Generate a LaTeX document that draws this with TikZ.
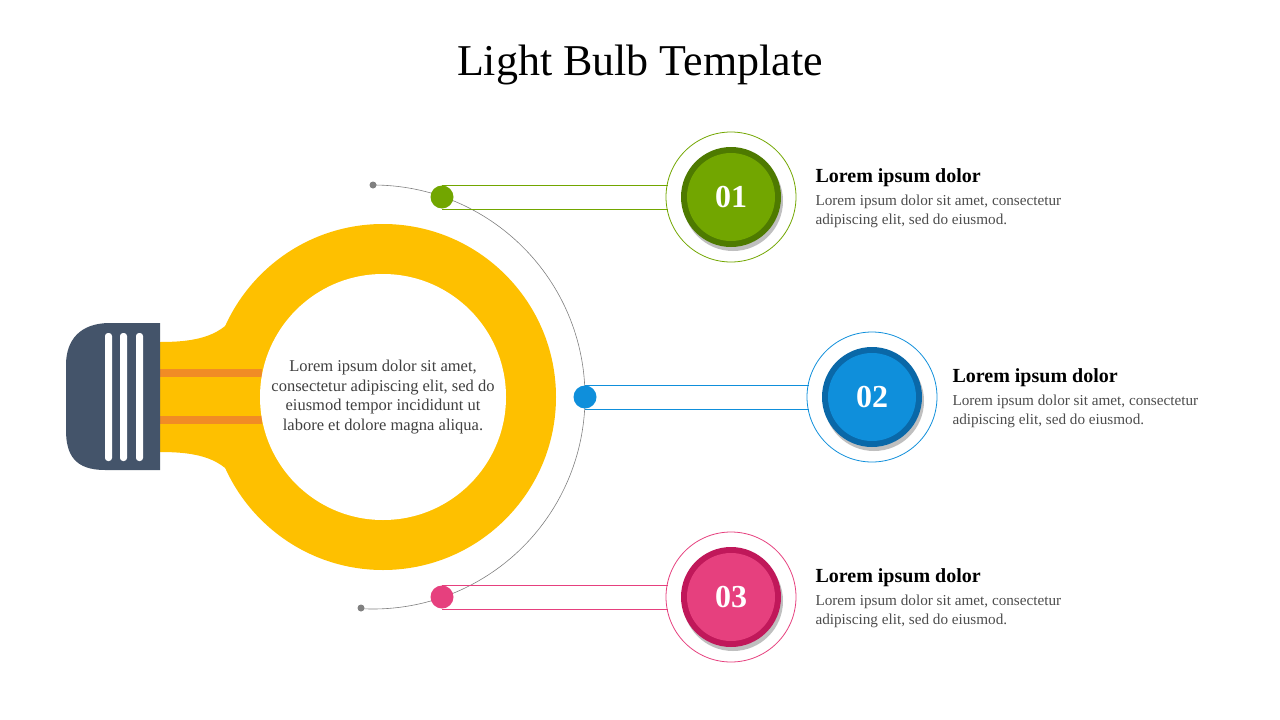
\documentclass[tikz,border=0pt]{standalone}
\usepackage{fontspec}
\setmainfont{Liberation Serif}
\begin{document}
\begin{tikzpicture}[x=1pt,y=-1pt,
  ring/.style={draw=#1,line width=0.8pt,fill=white},
  numc/.style={circle,inner sep=0pt,minimum size=88pt,fill=#1,text=white,font=\fontsize{32}{32}\selectfont\bfseries},
  head/.style={anchor=west,font=\fontsize{20}{22}\selectfont\bfseries,text=black},
  body/.style={anchor=north west,align=left,font=\fontsize{15.2}{19}\selectfont,text=black!70},
  stripe/.style={fill=white,rounded corners=3pt}]
\useasboundingbox (0,0) rectangle (1280,720);
\definecolor{bulb}{HTML}{FEC000}
\definecolor{base}{HTML}{44546A}
\definecolor{org}{HTML}{F18C25}
\definecolor{gr}{HTML}{72A600}\definecolor{grd}{HTML}{4E7A00}
\definecolor{bl}{HTML}{0F8FDB}\definecolor{bld}{HTML}{0A68A8}
\definecolor{pk}{HTML}{E6407E}\definecolor{pkd}{HTML}{C0185A}
\node[font=\fontsize{44}{44}\selectfont] (title) at (640,65) {Light Bulb Template};
% bulb
\fill[bulb] (383,397) circle (173);
\fill[bulb] (150,342) -- (160,342) .. controls (200,342) and (222,335) .. (238,312) -- (300,330) -- (300,464) -- (238,482) .. controls (222,459) and (200,452) .. (160,452) -- (150,452) -- cycle;
\fill[org] (160,369) rectangle (262,377);
\fill[org] (160,416) rectangle (262,424);
\fill[white] (383,397) circle (123);
\fill[base] (160,323) -- (160,470) -- (105,470) .. controls (75,470) and (66,455) .. (66,430) -- (66,365) .. controls (66,340) and (80,323) .. (110,323) -- cycle;
\fill[stripe] (105,333) rectangle (112,461);
\fill[stripe] (120,333) rectangle (127,461);
\fill[stripe] (136,333) rectangle (143,461);
\node[align=center,font=\fontsize{16.5}{19.5}\selectfont,text=black!75] (ctext) at (383,397) {Lorem ipsum dolor sit amet,\\consectetur adipiscing elit, sed do\\eiusmod tempor incididunt ut\\labore et dolore magna aliqua.};
% arc
\draw[gray,line width=0.6pt] (373,185) arc[start angle=-90,end angle=93,radius=212];
\fill[gray] (373,185) circle (3.5);
\fill[gray] (361,608) circle (3.5);
% item 1
\draw[ring=gr] (731,197) circle (65);
\fill[gr] (442,184.5) rectangle (668,185.8);
\fill[gr] (442,208.5) rectangle (668,209.8);
\fill[black!25] (733,201) circle (50);
\fill[grd] (731,197) circle (50);
\node[numc=gr] (n1) at (731,197) {01};
\fill[gr] (442,197) circle (11.5);
% item 2
\draw[ring=bl] (872,397) circle (65);
\fill[bl] (585,384.5) rectangle (809,385.8);
\fill[bl] (585,408.5) rectangle (809,409.8);
\fill[black!25] (874,401) circle (50);
\fill[bld] (872,397) circle (50);
\node[numc=bl] (n2) at (872,397) {02};
\fill[bl] (585,397) circle (11.5);
% item 3
\draw[ring=pk] (731,597) circle (65);
\fill[pk] (442,584.5) rectangle (668,585.8);
\fill[pk] (442,608.5) rectangle (668,609.8);
\fill[black!25] (733,601) circle (50);
\fill[pkd] (731,597) circle (50);
\node[numc=pk] (n3) at (731,597) {03};
\fill[pk] (442,597) circle (11.5);
\node[head] (h1) at (812,178) {Lorem ipsum dolor};
\node[body] (b1) at (812,191) {Lorem ipsum dolor sit amet, consectetur\\adipiscing elit, sed do eiusmod.};
\node[head] (h2) at (949,378) {Lorem ipsum dolor};
\node[body] (b2) at (949,391) {Lorem ipsum dolor sit amet, consectetur\\adipiscing elit, sed do eiusmod.};
\node[head] (h3) at (812,578) {Lorem ipsum dolor};
\node[body] (b3) at (812,591) {Lorem ipsum dolor sit amet, consectetur\\adipiscing elit, sed do eiusmod.};
\end{tikzpicture}
\end{document}
